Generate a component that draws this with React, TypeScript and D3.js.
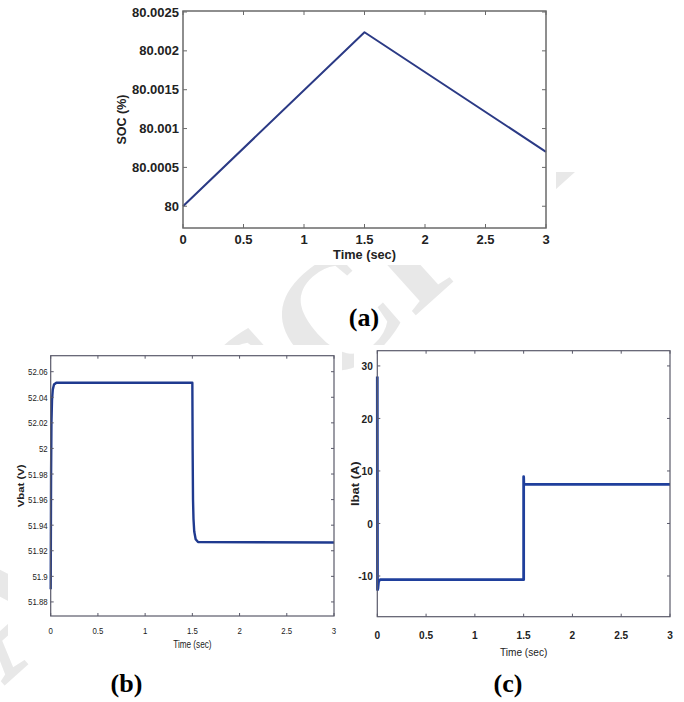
import * as d3 from "d3";

const width = 684;
const height = 702;

// shared time axis
const timeTicks = [0, 0.5, 1, 1.5, 2, 2.5, 3];
const timeTickLabels = ["0", "0.5", "1", "1.5", "2", "2.5", "3"];

// (a) state of charge
const socTime = [0, 1.5, 3];
const socValue = [80, 80.00224, 80.0007];
const socTicks = [80, 80.0005, 80.001, 80.0015, 80.002, 80.0025];
const socTickLabels = ["80", "80.0005", "80.001", "80.0015", "80.002", "80.0025"];

// (b) battery voltage
const vbatTime = [0, 0.004, 0.008, 0.014, 0.022, 0.035, 0.06, 1.5, 1.503, 1.507, 1.512, 1.52, 1.535, 1.56, 3];
const vbatValue = [51.89, 51.98, 52.02, 52.038, 52.046, 52.05, 52.0514, 52.0514, 52.0, 51.96, 51.945, 51.935, 51.929, 51.9268, 51.9265];
const vbatTicks = [51.88, 51.9, 51.92, 51.94, 51.96, 51.98, 52, 52.02, 52.04, 52.06];
const vbatTickLabels = ["51.88", "51.9", "51.92", "51.94", "51.96", "51.98", "52", "52.02", "52.04", "52.06"];

// (c) battery current
const ibatTime = [0, 0.002, 0.006, 0.012, 0.02, 0.034, 1.5, 1.5, 1.502, 3];
const ibatValue = [28, -12.6, -12.4, -11.2, -10.8, -10.7, -10.7, 8.9, 7.45, 7.45];
const ibatTicks = [-10, 0, 10, 20, 30];
const ibatTickLabels = ["-10", "0", "10", "20", "30"];

const sans = "'Liberation Sans', Arial, Helvetica, sans-serif";
const serif = "'Liberation Serif', 'Times New Roman', Times, serif";

type TxtProps = {
  x: number;
  y: number;
  text: string;
  size: number;
  weight?: string;
  anchor?: string;
  rotate?: number;
  sx?: number;
  sy?: number;
  family?: string;
  fill?: string;
  dy?: string;
};

const Txt = ({ x, y, text, size, weight = "normal", anchor = "middle", rotate = 0, sx = 1, sy = 1, family = sans, fill = "#222", dy }: TxtProps) => (
  <text
    transform={`translate(${x},${y}) rotate(${rotate}) scale(${sx},${sy})`}
    textAnchor={anchor}
    fontSize={size}
    fontWeight={weight}
    fontFamily={family}
    fill={fill}
    dy={dy}
  >
    {text}
  </text>
);

type PanelProps = {
  x: d3.ScaleLinear<number, number>;
  y: d3.ScaleLinear<number, number>;
  xs: number[];
  ys: number[];
  yTicks: number[];
  yTickLabels: string[];
  yLabel: string;
  lineColor: string;
  lineWidth: number;
  axisColor: string;
  axisWidth: number;
  tickLen: number;
  font: { size: number; weight: string; sx: number };
  xLabelY: number;
  yLabelGap: number;
  titleY: number;
  title: { size: number; weight: string; sx: number };
  yTitleX: number;
  yTitle: { size: number; sy: number };
};

const Panel = (p: PanelProps) => {
  const [x0, x1] = p.x.range();
  const [y0, y1] = p.y.range(); // y0 bottom, y1 top
  const line = d3
    .line<number>()
    .x((_, i) => p.x(p.xs[i]))
    .y((d) => p.y(d));
  return (
    <g>
      <path d={line(p.ys) ?? ""} fill="none" stroke={p.lineColor} strokeWidth={p.lineWidth} strokeLinejoin="round" />
      <rect x={x0} y={y1} width={x1 - x0} height={y0 - y1} fill="none" stroke={p.axisColor} strokeWidth={p.axisWidth} />
      {timeTicks.map((t, i) => (
        <g key={`xt${i}`}>
          <line x1={p.x(t)} x2={p.x(t)} y1={y0} y2={y0 - p.tickLen} stroke={p.axisColor} />
          <line x1={p.x(t)} x2={p.x(t)} y1={y1} y2={y1 + p.tickLen} stroke={p.axisColor} />
          <Txt x={p.x(t)} y={p.xLabelY} text={timeTickLabels[i]} size={p.font.size} weight={p.font.weight} sx={p.font.sx} />
        </g>
      ))}
      {p.yTicks.map((v, i) => (
        <g key={`yt${i}`}>
          <line x1={x0} x2={x0 + p.tickLen} y1={p.y(v)} y2={p.y(v)} stroke={p.axisColor} />
          <line x1={x1} x2={x1 - p.tickLen} y1={p.y(v)} y2={p.y(v)} stroke={p.axisColor} />
          <Txt x={x0 - p.yLabelGap} y={p.y(v)} dy="0.36em" anchor="end" text={p.yTickLabels[i]} size={p.font.size} weight={p.font.weight} sx={p.font.sx} />
        </g>
      ))}
      <Txt x={(x0 + x1) / 2} y={p.titleY} text="Time (sec)" size={p.title.size} weight={p.title.weight} sx={p.title.sx} />
      <Txt x={p.yTitleX} y={(y0 + y1) / 2} rotate={-90} text={p.yLabel} size={p.yTitle.size} weight="bold" sy={p.yTitle.sy} />
    </g>
  );
};

const App = () => {
  const xa = d3.scaleLinear().domain([0, 3]).range([183, 546]);
  const ya = d3.scaleLinear().domain([79.99972, 80.002513]).range([228, 11]);
  const xb = d3.scaleLinear().domain([0, 3]).range([50.7, 334]);
  const yb = d3.scaleLinear().domain([51.869, 52.0725]).range([616, 355.7]);
  const xc = d3.scaleLinear().domain([0, 3]).range([377.3, 670]);
  const yc = d3.scaleLinear().domain([-17.75, 32.9]).range([616.7, 350.7]);

  return (
    <svg width={width} height={height} style={{ position: "absolute", left: 0, top: 0, background: "#fff" }}>
      <rect width={width} height={height} fill="#fff" />
      {/* faint watermark, mostly hidden behind the figure images */}
      <text transform="translate(335,318) rotate(-42)" x={-1564} y={52} fontSize={160} fontWeight="bold" fontFamily={serif} fill="#e8e8e8">
        ACCEPTED MANUSCRIPT
      </text>
      <rect x={105} y={0} width={451} height={265} fill="#fff" />
      <rect x={556} y={0} width={128} height={172} fill="#fff" />
      <rect x={8} y={345} width={334} height={307} fill="#fff" />
      <rect x={354} y={345} width={330} height={317} fill="#fff" />

      <Panel
        x={xa}
        y={ya}
        xs={socTime}
        ys={socValue}
        yTicks={socTicks}
        yTickLabels={socTickLabels}
        yLabel="SOC (%)"
        lineColor="#2b3a85"
        lineWidth={2}
        axisColor="#6a6a6a"
        axisWidth={1.5}
        tickLen={4}
        font={{ size: 12.5, weight: "bold", sx: 1.04 }}
        xLabelY={243.5}
        yLabelGap={4}
        titleY={258.5}
        title={{ size: 12.5, weight: "bold", sx: 1.02 }}
        yTitleX={125.5}
        yTitle={{ size: 12.5, sy: 1 }}
      />
      <Panel
        x={xb}
        y={yb}
        xs={vbatTime}
        ys={vbatValue}
        yTicks={vbatTicks}
        yTickLabels={vbatTickLabels}
        yLabel="Vbat (V)"
        lineColor="#1f3a8f"
        lineWidth={2.4}
        axisColor="#5a5a6a"
        axisWidth={1.2}
        tickLen={3}
        font={{ size: 9.8, weight: "normal", sx: 0.8 }}
        xLabelY={633.5}
        yLabelGap={3}
        titleY={647.5}
        title={{ size: 10, weight: "normal", sx: 0.82 }}
        yTitleX={24}
        yTitle={{ size: 11.4, sy: 0.75 }}
      />
      <Panel
        x={xc}
        y={yc}
        xs={ibatTime}
        ys={ibatValue}
        yTicks={ibatTicks}
        yTickLabels={ibatTickLabels}
        yLabel="Ibat (A)"
        lineColor="#1f3f9c"
        lineWidth={2.8}
        axisColor="#5a5a6a"
        axisWidth={1.2}
        tickLen={3}
        font={{ size: 11.5, weight: "bold", sx: 0.88 }}
        xLabelY={638.5}
        yLabelGap={4.5}
        titleY={656}
        title={{ size: 11, weight: "normal", sx: 0.92 }}
        yTitleX={359}
        yTitle={{ size: 13, sy: 0.85 }}
      />

      <Txt x={364} y={326} text="(a)" size={26} weight="bold" family={serif} fill="#000" />
      <Txt x={126.5} y={692} text="(b)" size={26} weight="bold" family={serif} fill="#000" />
      <Txt x={508} y={692} text="(c)" size={26} weight="bold" family={serif} fill="#000" />
    </svg>
  );
};

export default App;
